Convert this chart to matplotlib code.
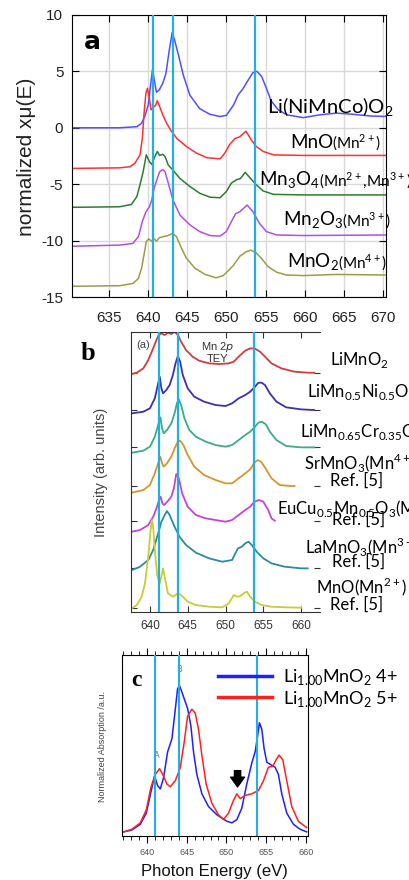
import matplotlib.pyplot as plt
from matplotlib.lines import Line2D

plt.rcParams["axes.unicode_minus"] = False

# ---------------- panel a: normalized XAS, offset curves ----------------
nmc_e = [630.4, 636.4, 638.6, 639.2, 639.6, 640.05, 640.35, 640.6, 640.85, 641.1, 641.45, 641.9,
         642.3, 642.7, 643.1, 643.4, 643.9, 644.5, 645.35, 646.6, 647.9, 649.2, 650.0, 650.9,
         651.5, 652.1, 652.8, 653.4, 653.9, 654.5, 655.1, 655.7, 656.6, 657.7, 659.8, 661.9,
         664.0, 666.1, 668.3, 670.4]
nmc_y = [0.0, 0.0, 0.1, 0.4, 1.0, 2.0, 3.8, 5.2, 4.1, 3.15, 3.35, 3.95, 4.8, 6.75, 8.45, 7.8,
         6.45, 4.7, 2.9, 1.7, 1.2, 1.0, 1.1, 2.0, 2.9, 3.45, 4.25, 4.9, 5.0, 4.55, 3.5, 2.4, 1.6,
         1.15, 0.9, 1.15, 1.3, 1.2, 1.05, 1.0]

mno_e = [630.4, 636.4, 637.7, 638.35, 639.0, 639.3, 639.5, 639.75, 639.95, 640.2, 640.4, 640.7,
         641.0, 641.2, 641.5, 641.9, 642.4, 642.9, 643.7, 644.9, 646.2, 647.5, 649.2, 649.8,
         650.4, 651.1, 651.7, 652.5, 653.2, 653.8, 654.7, 656.0, 659.8, 670.4]
mno_y = [-3.6, -3.55, -3.45, -3.15, -2.4, -0.95, 1.15, 3.05, 3.5, 2.6, 1.6, 1.8, 2.0, 2.4, 1.9,
         1.15, 0.4, -0.2, -0.95, -1.65, -2.25, -2.65, -2.75, -2.25, -1.5, -0.95, -0.8, -0.3,
         -1.1, -1.65, -2.1, -2.4, -2.45, -2.45]

mn3o4_e = [630.4, 636.4, 637.9, 638.6, 639.0, 639.4, 639.8, 640.2, 640.5, 640.8, 641.2, 641.5,
           641.9, 642.2, 642.6, 643.2, 644.1, 645.35, 646.6, 647.9, 649.2, 650.0, 650.65, 651.3,
           651.8, 652.4, 653.1, 653.8, 654.7, 656.0, 659.8, 670.4]
mn3o4_y = [-7.05, -7.0, -6.8, -6.1, -5.05, -3.9, -2.4, -3.0, -3.25, -2.7, -2.1, -2.45, -2.35,
           -2.55, -3.3, -3.75, -4.5, -5.2, -5.8, -6.15, -6.2, -5.65, -4.9, -4.6, -4.5, -3.95,
           -4.5, -5.05, -5.6, -5.9, -5.95, -5.95]

mn2o3_e = [630.4, 636.4, 638.1, 638.8, 639.3, 639.75, 640.2, 640.5, 640.8, 641.2, 641.5, 641.9,
           642.2, 642.6, 643.2, 644.1, 645.35, 646.6, 647.9, 649.2, 650.0, 650.65, 651.2, 651.7,
           652.65, 653.4, 654.2, 655.1, 656.4, 659.8, 670.4]
mn2o3_y = [-10.5, -10.4, -10.25, -9.65, -8.3, -7.45, -7.0, -6.4, -5.35, -4.5, -3.9, -3.7, -3.9,
           -4.9, -6.4, -7.75, -8.6, -9.2, -9.55, -9.6, -9.2, -8.3, -7.6, -7.45, -6.85, -7.45,
           -8.45, -9.2, -9.5, -9.55, -9.5]

mno2_e = [630.4, 636.4, 638.1, 638.8, 639.2, 639.5, 639.8, 640.1, 640.5, 640.8, 641.1, 641.45,
          641.95, 642.6, 643.15, 643.65, 644.3, 644.9, 646.0, 647.3, 648.7, 649.6, 650.2, 650.9,
          651.7, 652.5, 653.1, 653.75, 654.5, 655.3, 656.4, 657.65, 659.8, 664.0, 670.4]
mno2_y = [-14.05, -14.0, -13.8, -13.35, -12.45, -11.3, -10.1, -9.85, -10.05, -9.85, -10.05,
          -9.75, -9.65, -9.55, -9.35, -9.65, -10.7, -11.55, -12.45, -13.0, -13.3, -13.1, -12.7,
          -12.2, -11.4, -11.0, -10.85, -11.05, -11.6, -12.3, -12.8, -13.05, -13.1, -13.0, -13.05]

a_names = ["Li(NiMnCo)O$_\\mathregular{2}$", "MnO", "Mn$_\\mathregular{3}$O$_\\mathregular{4}$",
           "Mn$_\\mathregular{2}$O$_\\mathregular{3}$", "MnO$_\\mathregular{2}$"]
a_states = ["", "(Mn$^\\mathregular{2+}$)", "(Mn$^\\mathregular{2+}$,Mn$^\\mathregular{3+}$)",
            "(Mn$^\\mathregular{3+}$)", "(Mn$^\\mathregular{4+}$)"]
a_colors = ["#5050ff", "#ff3030", "#2e7d2e", "#b24ee8", "#9c9c45"]
a_refs = [640.6, 643.15, 653.7]

# ---------------- panel b: Mn 2p TEY reference spectra ----------------
limno2_e = [637.61, 638.26, 639.13, 639.78, 640.43, 640.87, 641.17, 641.52, 641.96, 642.39,
            642.83, 643.26, 643.70, 644.13, 644.78, 645.65, 646.52, 647.83, 649.13, 650.43,
            651.09, 651.52, 651.96, 652.61, 653.26, 653.83, 654.57, 655.22, 656.09, 657.39,
            659.13, 660.87, 661.74]
limno2_y = [7.13, 7.17, 7.30, 7.55, 7.90, 8.15, 8.30, 8.35, 8.30, 8.37, 8.33, 8.40, 8.30, 8.10,
            7.85, 7.65, 7.53, 7.45, 7.43, 7.45, 7.50, 7.60, 7.70, 7.83, 7.90, 7.90, 7.80, 7.65,
            7.45, 7.30, 7.20, 7.17, 7.17]

limnni_e = [637.61, 639.13, 640.0, 640.65, 641.09, 641.30, 641.52, 641.74, 642.17, 642.61,
            643.04, 643.39, 643.70, 644.0, 644.35, 645.0, 645.87, 647.17, 648.70, 650.0, 650.87,
            651.74, 652.61, 653.26, 653.83, 654.35, 654.78, 655.22, 655.87, 656.74, 658.04,
            660.0, 661.74]
limnni_y = [5.95, 6.00, 6.10, 6.40, 6.85, 7.05, 6.70, 6.55, 6.65, 6.80, 7.10, 7.45, 7.67, 7.50,
            7.10, 6.70, 6.45, 6.30, 6.20, 6.17, 6.25, 6.40, 6.50, 6.60, 6.73, 6.87, 6.87, 6.80,
            6.55, 6.30, 6.13, 6.07, 6.05]

limncr_e = [637.61, 639.13, 640.0, 640.65, 641.09, 641.39, 641.61, 641.83, 642.26, 642.83,
            643.26, 643.57, 643.83, 644.13, 644.57, 645.22, 646.09, 647.39, 648.70, 650.0,
            650.87, 651.74, 652.61, 653.26, 653.83, 654.35, 654.78, 655.30, 655.87, 656.74,
            658.04, 660.0, 661.74]
limncr_y = [4.77, 4.83, 4.95, 5.25, 5.60, 5.83, 5.50, 5.35, 5.45, 5.65, 5.95, 6.25, 6.37, 6.20,
            5.80, 5.45, 5.25, 5.10, 5.00, 4.95, 5.00, 5.15, 5.30, 5.40, 5.53, 5.67, 5.70, 5.63,
            5.40, 5.15, 4.97, 4.93, 4.93]

srmno3_e = [637.61, 639.13, 640.0, 640.65, 641.09, 641.39, 641.61, 641.83, 642.26, 642.83,
            643.26, 643.70, 644.0, 644.43, 645.0, 645.87, 647.17, 648.70, 650.0, 650.87, 651.74,
            652.61, 653.26, 653.83, 654.26, 654.70, 655.30, 656.09, 657.17, 658.70, 659.13]
srmno3_y = [3.57, 3.65, 3.80, 4.15, 4.45, 4.65, 4.45, 4.35, 4.45, 4.65, 4.90, 5.10, 5.13, 5.00,
            4.70, 4.35, 4.10, 3.95, 3.85, 3.85, 4.00, 4.15, 4.27, 4.47, 4.55, 4.50, 4.30, 4.00,
            3.80, 3.77, 3.77]

eucu_e = [637.61, 638.70, 639.78, 640.43, 640.87, 641.22, 641.43, 641.65, 641.87, 642.30, 642.83,
          643.17, 643.48, 643.83, 644.26, 645.0, 646.09, 647.39, 648.70, 650.0, 650.87, 651.74,
          652.61, 653.26, 653.83, 654.43, 655.0, 655.65, 656.09, 656.52]
eucu_y = [2.40, 2.45, 2.60, 2.85, 3.10, 3.35, 3.45, 3.25, 3.20, 3.30, 3.45, 3.70, 4.13, 4.00,
          3.55, 3.15, 2.90, 2.80, 2.75, 2.70, 2.75, 2.90, 3.05, 3.15, 3.30, 3.35, 3.30, 3.05,
          2.80, 2.73]

lamno3_e = [637.61, 638.70, 639.78, 640.43, 641.09, 641.52, 641.96, 642.26, 642.61, 643.26,
            643.91, 644.78, 646.09, 647.83, 649.57, 650.87, 651.30, 651.65, 652.17, 652.61,
            653.04, 653.48, 654.13, 655.0, 656.09, 657.83, 660.0, 660.87]
lamno3_y = [1.25, 1.35, 1.55, 1.85, 2.35, 2.70, 2.90, 3.02, 2.90, 2.55, 2.25, 2.00, 1.77, 1.60,
            1.50, 1.55, 1.75, 1.90, 1.95, 2.05, 2.10, 2.00, 1.80, 1.60, 1.45, 1.35, 1.30, 1.30]

mnoref_e = [637.61, 638.26, 638.91, 639.35, 639.78, 640.09, 640.26, 640.43, 640.65, 640.96,
            641.30, 641.61, 641.74, 641.96, 642.39, 643.04, 643.70, 644.13, 645.0, 646.09,
            647.83, 649.57, 650.43, 651.09, 651.52, 651.96, 652.39, 652.83, 653.26, 653.91,
            654.78, 656.09, 658.26, 660.0]
mnoref_y = [0.10, 0.20, 0.45, 0.85, 1.65, 2.45, 2.75, 2.55, 1.85, 1.10, 0.85, 1.15, 1.30, 1.05,
            0.55, 0.45, 0.55, 0.50, 0.30, 0.20, 0.15, 0.13, 0.25, 0.50, 0.45, 0.47, 0.55, 0.60,
            0.45, 0.30, 0.20, 0.15, 0.13, 0.12]

b_names = ["LiMnO$_\\mathregular{2}$",
           "LiMn$_\\mathregular{0.5}$Ni$_\\mathregular{0.5}$O$_\\mathregular{2}$",
           "LiMn$_\\mathregular{0.65}$Cr$_\\mathregular{0.35}$O$_\\mathregular{2}$",
           "SrMnO$_\\mathregular{3}$(Mn$^\\mathregular{4+}$)",
           "EuCu$_\\mathregular{0.5}$Mn$_\\mathregular{0.5}$O$_\\mathregular{3}$(Mn$^\\mathregular{3+}$)",
           "LaMnO$_\\mathregular{3}$(Mn$^\\mathregular{3+}$)",
           "MnO(Mn$^\\mathregular{2+}$)"]
b_colors = ["#d43b3b", "#3b30b0", "#3aae80", "#d6952e", "#c445d4", "#2b8c9c", "#c9cc33"]
b_refs = [641.17, 643.78, 653.83]

# ---------------- panel c: calculated spectra ----------------
c4_e = [637.07, 638.12, 639.16, 639.92, 640.50, 640.96, 641.34, 641.68, 642.09, 642.60, 643.14,
        643.56, 643.85, 644.10, 644.40, 644.82, 645.11, 645.53, 645.86, 646.28, 646.91, 647.75,
        648.79, 650.05, 650.68, 651.31, 651.93, 652.56, 653.19, 653.61, 653.90, 654.15, 654.45,
        654.74, 655.08, 655.58, 656.12, 656.54, 656.96, 657.59, 658.43, 659.26, 660.10]
c4_y = [0.021, 0.032, 0.063, 0.125, 0.241, 0.330, 0.277, 0.259, 0.321, 0.464, 0.536, 0.696,
        0.813, 0.830, 0.795, 0.741, 0.705, 0.607, 0.464, 0.339, 0.232, 0.161, 0.116, 0.080,
        0.071, 0.089, 0.152, 0.286, 0.402, 0.464, 0.545, 0.625, 0.589, 0.482, 0.407, 0.393,
        0.379, 0.339, 0.232, 0.125, 0.063, 0.036, 0.021]
c5_e = [637.07, 638.12, 639.16, 639.92, 640.50, 641.05, 641.59, 642.09, 642.51, 642.93, 643.56,
        644.19, 644.69, 645.11, 645.65, 646.07, 646.49, 646.91, 647.45, 648.17, 649.00, 649.63,
        650.26, 650.89, 651.31, 651.73, 652.35, 653.19, 654.03, 654.66, 655.28, 655.83, 656.25,
        656.62, 657.09, 657.59, 658.22, 659.05, 660.10]
c5_y = [0.021, 0.036, 0.071, 0.143, 0.268, 0.339, 0.371, 0.330, 0.286, 0.271, 0.304, 0.375,
        0.518, 0.661, 0.700, 0.679, 0.589, 0.446, 0.286, 0.179, 0.116, 0.089, 0.125, 0.196,
        0.232, 0.205, 0.223, 0.232, 0.250, 0.304, 0.379, 0.384, 0.420, 0.446, 0.420, 0.304,
        0.161, 0.080, 0.045]
c_labels = ["Li$_\\mathregular{1.00}$MnO$_\\mathregular{2}$ 4+",
            "Li$_\\mathregular{1.00}$MnO$_\\mathregular{2}$ 5+"]
c_colors = ["#1f1fff", "#ff2020"]
c_refs = [640.96, 644.02, 653.9]

CYAN = "#1fb0ea"
W, H = 410, 880


def box(l, t, r, b):
    return [l / W, 1 - b / H, (r - l) / W, (b - t) / H]


def fx(x):
    return x / W


def fy(y):
    return 1 - y / H


fig = plt.figure(figsize=(W / 100, H / 100), dpi=100)
renderer = fig.canvas.get_renderer()

# ---- a ----
ax = fig.add_axes(box(71.7, 15, 385.7, 297))
for e, y, c in zip([nmc_e, mno_e, mn3o4_e, mn2o3_e, mno2_e],
                   [nmc_y, mno_y, mn3o4_y, mn2o3_y, mno2_y], a_colors):
    ax.plot(e, y, color=c, lw=1.1)
for r in a_refs:
    ax.axvline(r, color=CYAN, lw=1.6, zorder=5)
ax.set_xlim(630.3, 670.3)
ax.set_ylim(-15, 10)
ax.set_xticks(range(635, 671, 5))
ax.set_yticks(range(-15, 11, 5))
ax.grid(True, color="#d9d9d9", lw=1)
ax.set_axisbelow(True)
ax.tick_params(direction="in", top=True, right=True, length=5, labelsize=11, pad=6)
ax.tick_params(axis="x", pad=10)
for t in ax.get_xticklabels() + ax.get_yticklabels():
    t.set_fontfamily("Liberation Sans")
    t.set_color("#222222")
fig.text(fx(27), fy(157), "normalized x\u03bc(E)", rotation=90, ha="center", va="center",
         fontsize=15, family="Liberation Sans", color="#222222")
fig.text(fx(92), fy(42), "a", fontsize=18, fontweight="bold", family="DejaVu Sans",
         ha="center", va="center")
a_pos = [(267, 108), (290, 142), (259, 180), (283, 220), (287, 262)]
a_size = [14.5, 13.5, 13.5, 13.5, 13.5]
for (px, py), name, state, fs in zip(a_pos, a_names, a_states, a_size):
    t = fig.text(fx(px), fy(py + 6), name, fontsize=fs, family="Lato", ha="left",
                 va="baseline")
    if state:
        bb = t.get_window_extent(renderer=renderer)
        fig.text(fx(bb.x1 - 1), fy(py + 6), state, fontsize=11, family="Lato", ha="left",
                 va="baseline")

# ---- b ----
bx = fig.add_axes(box(131, 331.7, 320, 611.7))
b_curves = [(limno2_e, limno2_y), (limnni_e, limnni_y), (limncr_e, limncr_y),
            (srmno3_e, srmno3_y), (eucu_e, eucu_y), (lamno3_e, lamno3_y), (mnoref_e, mnoref_y)]
for (e, y), c in zip(b_curves, b_colors):
    bx.plot(e, y, color=c, lw=1.3)
for r in b_refs:
    bx.axvline(r, color=CYAN, lw=1.6, zorder=5)
bx.set_xlim(637.5, 662.5)
bx.set_ylim(0, 8.4)
bx.set_xticks(range(640, 661, 5))
bx.set_yticks([y[-1] for _, y in b_curves])
bx.spines["right"].set_visible(False)
for s in bx.spines.values():
    s.set_color("#333333")
bx.tick_params(direction="in", top=True, right=True, left=True, length=4, labelsize=8.5,
               pad=6, color="#333333", labelleft=False)
for t in bx.get_xticklabels():
    t.set_fontfamily("Liberation Sans")
    t.set_color("#333333")
bx.text(0.03, 0.97, "(a)", transform=bx.transAxes, fontsize=8, color="#444444",
        family="Liberation Sans", ha="left", va="top")
bx.text(0.46, 0.97, "Mn 2$\\it{p}$\nTEY", transform=bx.transAxes, fontsize=8, color="#333333",
        family="Liberation Sans", ha="center", va="top", linespacing=1.0)
fig.text(fx(101), fy(472), "Intensity (arb. units)", rotation=90, ha="center", va="center",
         fontsize=10.5, family="Liberation Sans", color="#444444")
fig.text(fx(88), fy(353), "b", fontsize=19, fontweight="bold", family="Liberation Serif",
         ha="center", va="center")
b_pos = [(330, 360), (307, 392), (300, 432), (304, 463), (277, 508), (305, 547), (316, 587)]
b_ref_pos = [None, None, None, (330, 481), (332, 520), (332, 562), (330, 605)]
for name, (px, py), rp in zip(b_names, b_pos, b_ref_pos):
    fig.text(fx(px), fy(py), name, fontsize=12, family="Lato", ha="left", va="center",
             bbox=dict(facecolor="white", edgecolor="none", pad=0.5), zorder=10)
    if rp is not None:
        fig.text(fx(rp[0]), fy(rp[1]), "Ref. [5]", fontsize=12, family="Lato", ha="left",
                 va="center", zorder=11)

# ---- c ----
cx = fig.add_axes(box(122.3, 655, 308.3, 835.7))
cx.plot(c4_e, c4_y, color=c_colors[0], lw=1.1)
cx.plot(c5_e, c5_y, color=c_colors[1], lw=1.1)
for r in c_refs:
    cx.axvline(r, color=CYAN, lw=1.5, zorder=5)
cx.set_xlim(636.9, 660.3)
cx.set_ylim(0, 1)
cx.set_xticks(range(640, 661, 5))
cx.set_xticks(range(637, 661), minor=True)
cx.set_yticks([])
cx.tick_params(axis="x", which="both", direction="out", top=True, labelsize=6.5,
               labelcolor="#555555", pad=4)
cx.tick_params(axis="x", which="major", length=5)
cx.tick_params(axis="x", which="minor", length=3)
for t in cx.get_xticklabels():
    t.set_fontfamily("Liberation Sans")
cx.text(641.3, 0.42, "A", fontsize=6, color="#777777", ha="center", va="bottom")
cx.text(644.05, 0.895, "B", fontsize=6, color="#777777", ha="center", va="bottom")
cx.annotate("", xy=(651.4, 0.27), xytext=(651.4, 0.36),
            arrowprops=dict(arrowstyle="simple,head_width=1.0,head_length=0.7,tail_width=0.45",
                            color="black", shrinkA=0, shrinkB=0), zorder=6)
fig.text(fx(103), fy(746), "Normalized Absorption /a.u.", rotation=90, ha="center",
         va="center", fontsize=6.5, family="Liberation Sans", color="#444444")
fig.text(fx(214), fy(871), "Photon Energy (eV)", ha="center", va="center", fontsize=12,
         family="Liberation Sans", color="#111111")
fig.text(fx(136), fy(681), "c", fontsize=17, fontweight="bold", family="Liberation Serif",
         ha="center", va="center")
handles = [Line2D([], [], color=c, lw=2.5) for c in c_colors]
fig.legend(handles, c_labels, loc="upper left", bbox_to_anchor=(fx(218), fy(667)),
           frameon=False, borderpad=0, borderaxespad=0, handlelength=3.0, handletextpad=0.6,
           labelspacing=0.1, prop={"family": "Lato", "size": 13})

fig.savefig("out.png", dpi=100)
